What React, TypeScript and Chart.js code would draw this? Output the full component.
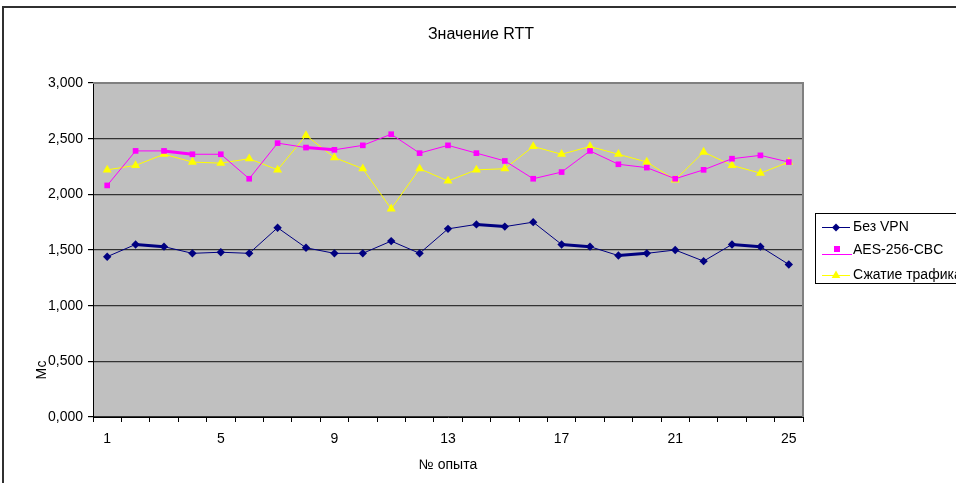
import React, { useEffect, useRef } from 'react';
import { Chart, registerables } from 'chart.js';

Chart.register(...registerables);

const categories = ['1', '2', '3', '4', '5', '6', '7', '8', '9', '10', '11', '12', '13', '14', '15', '16', '17', '18', '19', '20', '21', '22', '23', '24', '25'];
const shownTickLabels = ['1', '5', '9', '13', '17', '21', '25'];

const noVpn = [1.44, 1.55, 1.53, 1.47, 1.48, 1.47, 1.70, 1.52, 1.47, 1.47, 1.58, 1.47, 1.69, 1.73, 1.71, 1.75, 1.55, 1.53, 1.45, 1.47, 1.50, 1.40, 1.55, 1.53, 1.37];
const aes256 = [2.08, 2.39, 2.39, 2.36, 2.36, 2.14, 2.46, 2.42, 2.40, 2.44, 2.54, 2.37, 2.44, 2.37, 2.30, 2.14, 2.20, 2.39, 2.27, 2.24, 2.14, 2.22, 2.32, 2.35, 2.29];
const compression = [2.22, 2.26, 2.36, 2.29, 2.28, 2.32, 2.22, 2.53, 2.33, 2.23, 1.87, 2.23, 2.12, 2.22, 2.23, 2.43, 2.36, 2.43, 2.36, 2.29, 2.13, 2.38, 2.26, 2.19, 2.29];

const seriesNames = ['Без VPN', 'AES-256-CBC', 'Сжатие трафика'];
const titleText = 'Значение RTT';
const xTitle = '№ опыта';
const yTitle = 'Мс';

// segments drawn heavier in the original rendering (start index of segment)
const heavyNoVpn = [1, 13, 16, 18, 22];
const heavyAes = [2, 7];

const FONT = '"Liberation Sans", Arial, sans-serif';
const NAVY = '#000080';
const MAGENTA = '#FF00FF';
const YELLOW = '#FFFF00';

function diamond(ctx: CanvasRenderingContext2D, x: number, y: number, r: number, c: string) {
  ctx.beginPath();
  ctx.moveTo(x, y - r);
  ctx.lineTo(x + r, y);
  ctx.lineTo(x, y + r);
  ctx.lineTo(x - r, y);
  ctx.closePath();
  ctx.fillStyle = c;
  ctx.fill();
}
function square(ctx: CanvasRenderingContext2D, x: number, y: number, s: number, c: string) {
  ctx.fillStyle = c;
  ctx.fillRect(x - s, y - s, 2 * s, 2 * s);
}
function triangle(ctx: CanvasRenderingContext2D, x: number, y: number, r: number, c: string) {
  ctx.beginPath();
  ctx.moveTo(x, y - r);
  ctx.lineTo(x + r * 0.87, y + r * 0.5);
  ctx.lineTo(x - r * 0.87, y + r * 0.5);
  ctx.closePath();
  ctx.fillStyle = c;
  ctx.fill();
}
function hline(ctx: CanvasRenderingContext2D, x1: number, x2: number, y: number, c: string) {
  ctx.beginPath();
  ctx.moveTo(x1, y + 0.5);
  ctx.lineTo(x2, y + 0.5);
  ctx.strokeStyle = c;
  ctx.lineWidth = 1;
  ctx.stroke();
}

const decorPlugin = {
  id: 'decor',
  beforeDraw(chart: any) {
    const { ctx, chartArea: a } = chart;
    ctx.save();
    ctx.fillStyle = '#FFFFFF';
    ctx.fillRect(0, 0, chart.width, chart.height);
    ctx.fillStyle = '#C0C0C0';
    ctx.fillRect(a.left, a.top, a.right - a.left, a.bottom - a.top);
    ctx.restore();
  },
  beforeDatasetsDraw(chart: any) {
    const { ctx, chartArea: a } = chart;
    ctx.save();
    ctx.strokeStyle = '#808080';
    ctx.lineWidth = 2;
    ctx.beginPath();
    ctx.moveTo(a.left, a.top);
    ctx.lineTo(a.right, a.top);
    ctx.lineTo(a.right, a.bottom);
    ctx.stroke();
    ctx.restore();
  },
  afterDraw(chart: any) {
    const { ctx, chartArea: a } = chart;
    ctx.save();
    // outer frame
    ctx.strokeStyle = '#303030';
    ctx.lineWidth = 2;
    ctx.beginPath();
    ctx.moveTo(3, 483);
    ctx.lineTo(3, 7);
    ctx.lineTo(956, 7);
    ctx.stroke();

    ctx.fillStyle = '#000';
    ctx.textBaseline = 'middle';
    ctx.textAlign = 'center';
    ctx.font = `16px ${FONT}`;
    ctx.fillText(titleText, 481, 35);
    ctx.font = `14px ${FONT}`;
    ctx.fillText(xTitle, (a.left + a.right) / 2, 465);
    ctx.save();
    ctx.translate(42, 370);
    ctx.rotate(-Math.PI / 2);
    ctx.fillText(yTitle, 0, 0);
    ctx.restore();

    // legend
    ctx.strokeStyle = '#000';
    ctx.lineWidth = 1;
    ctx.strokeRect(815.5, 213.5, 200, 70);
    ctx.textAlign = 'left';
    ctx.font = `14px ${FONT}`;
    hline(ctx, 822, 850, 227, NAVY);
    diamond(ctx, 836, 227.5, 4, NAVY);
    ctx.fillStyle = '#000';
    ctx.fillText(seriesNames[0], 853, 227);
    hline(ctx, 822, 852, 254, MAGENTA);
    square(ctx, 837, 249, 3, MAGENTA);
    ctx.fillStyle = '#000';
    ctx.fillText(seriesNames[1], 853, 250);
    hline(ctx, 822, 850, 275, YELLOW);
    triangle(ctx, 836, 275.5, 5, YELLOW);
    ctx.fillStyle = '#000';
    ctx.fillText(seriesNames[2], 853, 275);
    ctx.restore();
  },
};

export default function App() {
  const ref = useRef<HTMLCanvasElement>(null);
  useEffect(() => {
    const canvas = ref.current!;
    const chart = new Chart(canvas, {
      type: 'line',
      data: {
        labels: categories,
        datasets: [
          {
            label: seriesNames[0],
            data: noVpn,
            borderColor: NAVY,
            backgroundColor: NAVY,
            borderWidth: 1,
            pointStyle: 'rectRot',
            pointRadius: 4.2,
            pointBorderWidth: 0,
            tension: 0,
            segment: { borderWidth: (c: any) => (heavyNoVpn.includes(c.p0DataIndex) ? 3 : 1) },
          },
          {
            label: seriesNames[1],
            data: aes256,
            borderColor: MAGENTA,
            backgroundColor: MAGENTA,
            borderWidth: 1,
            pointStyle: 'rect',
            pointRadius: 4,
            pointBorderWidth: 0,
            tension: 0,
            segment: { borderWidth: (c: any) => (heavyAes.includes(c.p0DataIndex) ? 3 : 1) },
          },
          {
            label: seriesNames[2],
            data: compression,
            borderColor: YELLOW,
            backgroundColor: YELLOW,
            borderWidth: 1,
            pointStyle: 'triangle',
            pointRadius: 5.2,
            pointBorderWidth: 0,
            tension: 0,
          },
        ],
      },
      options: {
        responsive: false,
        animation: false,
        devicePixelRatio: 1,
        layout: { padding: { top: 83, right: 153, left: 0, bottom: 0 } },
        plugins: {
          legend: { display: false },
          title: { display: false },
          tooltip: { enabled: false },
        },
        scales: {
          x: {
            type: 'category',
            offset: true,
            grid: {
              display: true,
              drawOnChartArea: false,
              drawTicks: true,
              tickLength: 5,
              tickColor: '#000',
              offset: true,
              lineWidth: 1,
            },
            border: { display: true, color: '#000', width: 1 },
            ticks: {
              autoSkip: false,
              maxRotation: 0,
              minRotation: 0,
              padding: 9,
              color: '#000',
              font: { family: FONT, size: 14 },
              callback: (_v: any, i: number) => (shownTickLabels.includes(categories[i]) ? categories[i] : ''),
            },
            afterFit: (s: any) => {
              s.height = 66;
            },
          },
          y: {
            min: 0,
            max: 3,
            ticks: {
              stepSize: 0.5,
              padding: 5,
              color: '#000',
              font: { family: FONT, size: 14 },
              callback: (v: any) => Number(v).toFixed(3).replace('.', ','),
            },
            grid: {
              color: (c: any) => (c.tick && c.tick.value === 3 ? 'rgba(0,0,0,0)' : '#333333'),
              lineWidth: 1.2,
              tickColor: '#000',
              tickLength: 5,
            },
            border: { display: true, color: '#000', width: 1 },
            afterFit: (s: any) => {
              s.width = 93;
            },
          },
        },
      },
      plugins: [decorPlugin],
    } as any);
    return () => chart.destroy();
  }, []);
  return (
    <canvas
      ref={ref}
      width={956}
      height={483}
      style={{ position: 'fixed', left: 0, top: 0, width: 956, height: 483 }}
    />
  );
}
